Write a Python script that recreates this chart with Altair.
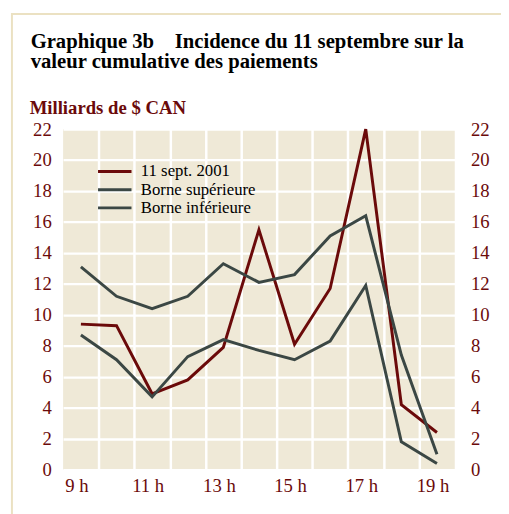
import altair as alt
import pandas as pd

hours = [9, 10, 11, 12, 13, 14, 15, 16, 17, 18, 19]
sept11 = [9.4, 9.3, 4.9, 5.8, 7.9, 15.5, 8.1, 11.7, 22.0, 4.2, 2.4]
upper = [13.1, 11.2, 10.4, 11.2, 13.3, 12.1, 12.6, 15.1, 16.4, 7.4, 1.0]
lower = [8.7, 7.1, 4.7, 7.3, 8.4, 7.7, 7.1, 8.3, 11.9, 1.8, 0.4]

series_names = ["11 sept. 2001", "Borne supérieure", "Borne inférieure"]
series_colors = ["#6b0a0a", "#3b4744", "#3b4744"]

x_label_values = [9, 11, 13, 15, 17, 19]
x_grid_values = [9.5, 10.5, 11.5, 12.5, 13.5, 14.5, 15.5, 16.5, 17.5, 18.5]
y_values = [0, 2, 4, 6, 8, 10, 12, 14, 16, 18, 20, 22]

title_line1 = "Graphique 3b\u00a0\u00a0\u00a0 Incidence du 11 septembre sur la"
title_line2 = "valeur cumulative des paiements"
unit_label = "Milliards de $ CAN"

rows = []
for name, vals in zip(series_names, [sept11, upper, lower]):
    for h, v in zip(hours, vals):
        rows.append({"hour": h, "value": v, "series": name})
df = pd.DataFrame(rows)

FONT = "Liberation Serif"
MAROON = "#6b0a0a"

x_scale = alt.Scale(domain=[8.5, 19.5], nice=False, zero=False)
y_scale = alt.Scale(domain=[0, 22], nice=False)
color_scale = alt.Scale(domain=series_names, range=series_colors)

one = alt.Data(values=[{}])

frame = alt.Chart(one).mark_rect(
    fill=None, stroke="#ebe1c2", strokeWidth=2
).encode(
    x=alt.value(-52), x2=alt.value(480), y=alt.value(-117), y2=alt.value(420)
)

t1 = alt.Chart(one).mark_text(
    text=title_line1, font=FONT, fontSize=21, fontWeight="bold", color="black",
    align="left", baseline="alphabetic"
).encode(x=alt.value(-33), y=alt.value(-82))

t2 = alt.Chart(one).mark_text(
    text=title_line2, font=FONT, fontSize=21, fontWeight="bold", color="black",
    align="left", baseline="alphabetic"
).encode(x=alt.value(-33), y=alt.value(-62))

t3 = alt.Chart(one).mark_text(
    text=unit_label, font=FONT, fontSize=19, fontWeight="bold", color=MAROON,
    align="left", baseline="alphabetic"
).encode(x=alt.value(-34), y=alt.value(-15))

lines = alt.Chart(df).mark_line(strokeWidth=3).encode(
    x=alt.X("hour:Q", scale=x_scale, axis=alt.Axis(
        values=x_grid_values, grid=True, gridColor="white", gridWidth=2.5,
        gridOpacity=1, labels=False, ticks=False, domain=False, title=None)),
    y=alt.Y("value:Q", scale=y_scale, axis=alt.Axis(
        values=y_values, grid=True, gridColor="white", gridWidth=2.5,
        gridOpacity=1, ticks=False, domain=False, title=None, orient="left",
        labelFont=FONT, labelFontSize=19, labelColor=MAROON, labelPadding=12,
        labelBaseline="middle")),
    color=alt.Color("series:N", scale=color_scale, sort=series_names,
                    legend=alt.Legend(
                        title=None, orient="none", legendX=34, legendY=33,
                        symbolType="M-1,0H3", symbolSize=289, symbolStrokeWidth=3,
                        symbolFillColor="transparent",
                        labelFont=FONT, labelFontSize=17, labelColor="black",
                        labelOffset=25, rowPadding=0.5)),
    detail="series:N",
)

labels_layer = alt.Chart(df).mark_line(strokeOpacity=0).encode(
    x=alt.X("hour:Q", scale=x_scale, axis=alt.Axis(
        values=x_label_values, grid=False, ticks=False, domain=False, title=None,
        labelExpr="datum.value + ' h'", translate=-4,
        labelFont=FONT, labelFontSize=19, labelColor=MAROON, labelPadding=12,
        orient="bottom")),
    y=alt.Y("value:Q", scale=y_scale, axis=alt.Axis(
        values=y_values, grid=False, ticks=False, domain=False, title=None,
        orient="right", labelFont=FONT, labelFontSize=19, labelColor=MAROON,
        labelPadding=16, labelBaseline="middle")),
    detail="series:N",
)

chart = alt.layer(frame, t1, t2, t3, lines, labels_layer).resolve_axis(
    x="independent", y="independent"
).properties(
    width=398,
    height=346,
    autosize=alt.AutoSizeParams(type="none"),
    padding={"left": 56, "top": 119, "right": 47, "bottom": 41},
).configure_view(fill="#efe9d7", stroke=None)

chart.save("out.html", embed_options={"renderer": "svg", "actions": False})
